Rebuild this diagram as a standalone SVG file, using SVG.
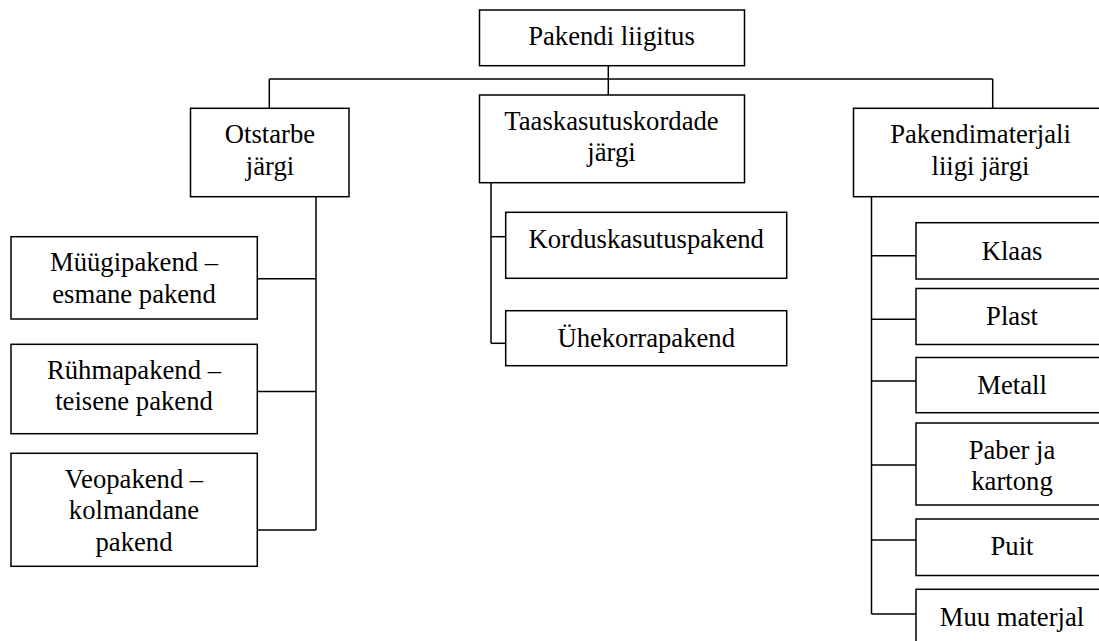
<svg xmlns="http://www.w3.org/2000/svg" width="1099" height="641" viewBox="0 0 1099 641">
<style>
rect{fill:#fff;stroke:#000;stroke-width:1.5}
.c line{stroke:#000;stroke-width:1.5}
text{font-size:26.67px;fill:#000;text-anchor:middle}
</style>
<rect x="0" y="0" width="1099" height="641" style="stroke:none"/>
<g class="c" id="connectors">
<line x1="269.3" y1="79" x2="992.7" y2="79"/>
<line x1="608.3" y1="65.7" x2="608.3" y2="95"/>
<line x1="269.3" y1="79" x2="269.3" y2="108.3"/>
<line x1="992.7" y1="79" x2="992.7" y2="108.3"/>
<line x1="316" y1="196.7" x2="316" y2="530"/>
<line x1="257.3" y1="278.7" x2="316" y2="278.7"/>
<line x1="257.3" y1="391.5" x2="316" y2="391.5"/>
<line x1="257.3" y1="530" x2="316" y2="530"/>
<line x1="491" y1="182.7" x2="491" y2="343.3"/>
<line x1="491" y1="236.7" x2="505.7" y2="236.7"/>
<line x1="491" y1="343.3" x2="505.7" y2="343.3"/>
<line x1="871.5" y1="196.7" x2="871.5" y2="614"/>
<line x1="871.5" y1="255.7" x2="916" y2="255.7"/>
<line x1="871.5" y1="319.3" x2="916" y2="319.3"/>
<line x1="871.5" y1="381" x2="916" y2="381"/>
<line x1="871.5" y1="465" x2="916" y2="465"/>
<line x1="871.5" y1="540" x2="916" y2="540"/>
<line x1="871.5" y1="614" x2="916" y2="614"/>
</g>
<g font-family="Liberation Serif, DejaVu Serif, serif">
<g id="root"><rect x="479.5" y="10" width="265" height="55.7"/><text x="611.5" y="45">Pakendi liigitus</text></g>
<g id="otstarbe"><rect x="190.5" y="108.3" width="158.5" height="88.4"/><text x="270" y="142.8">Otstarbe</text><text x="270" y="174.5">järgi</text></g>
<g id="taaskasutus"><rect x="479.5" y="95" width="265" height="87.7"/><text x="611.5" y="129.5">Taaskasutuskordade</text><text x="611.5" y="161.2">järgi</text></g>
<g id="materjal"><rect x="853.5" y="108.3" width="255" height="88.4"/><text x="980.5" y="142.8">Pakendimaterjali</text><text x="980.5" y="174.5">liigi järgi</text></g>
<g id="muugi"><rect x="11" y="236.7" width="246.3" height="82.3"/><text x="134" y="271.2">Müügipakend –</text><text x="134" y="302.7">esmane pakend</text></g>
<g id="ryhma"><rect x="11" y="344.3" width="246.3" height="89.4"/><text x="134" y="378.8">Rühmapakend –</text><text x="134" y="410.3">teisene pakend</text></g>
<g id="veo"><rect x="11" y="453.3" width="246.3" height="113"/><text x="134" y="487.8">Veopakend –</text><text x="134" y="519.3">kolmandane</text><text x="134" y="550.8">pakend</text></g>
<g id="kordus"><rect x="505.7" y="212.3" width="281" height="66"/><text x="646.2" y="248.3">Korduskasutuspakend</text></g>
<g id="uhekorra"><rect x="505.7" y="310.7" width="281" height="55"/><text x="646.2" y="346.7">Ühekorrapakend</text></g>
<g id="klaas"><rect x="916" y="222.7" width="192" height="56.3"/><text x="1012" y="260">Klaas</text></g>
<g id="plast"><rect x="916" y="288.5" width="192" height="56"/><text x="1012" y="325">Plast</text></g>
<g id="metall"><rect x="916" y="357.5" width="192" height="55.2"/><text x="1012" y="393.5">Metall</text></g>
<g id="paber"><rect x="916" y="423" width="192" height="82"/><text x="1012" y="458.5">Paber ja</text><text x="1012" y="490">kartong</text></g>
<g id="puit"><rect x="916" y="519" width="192" height="56.5"/><text x="1012" y="555">Puit</text></g>
<g id="muu"><rect x="916" y="589.3" width="192" height="60"/><text x="1012" y="625.5">Muu materjal</text></g>
</g>
</svg>
